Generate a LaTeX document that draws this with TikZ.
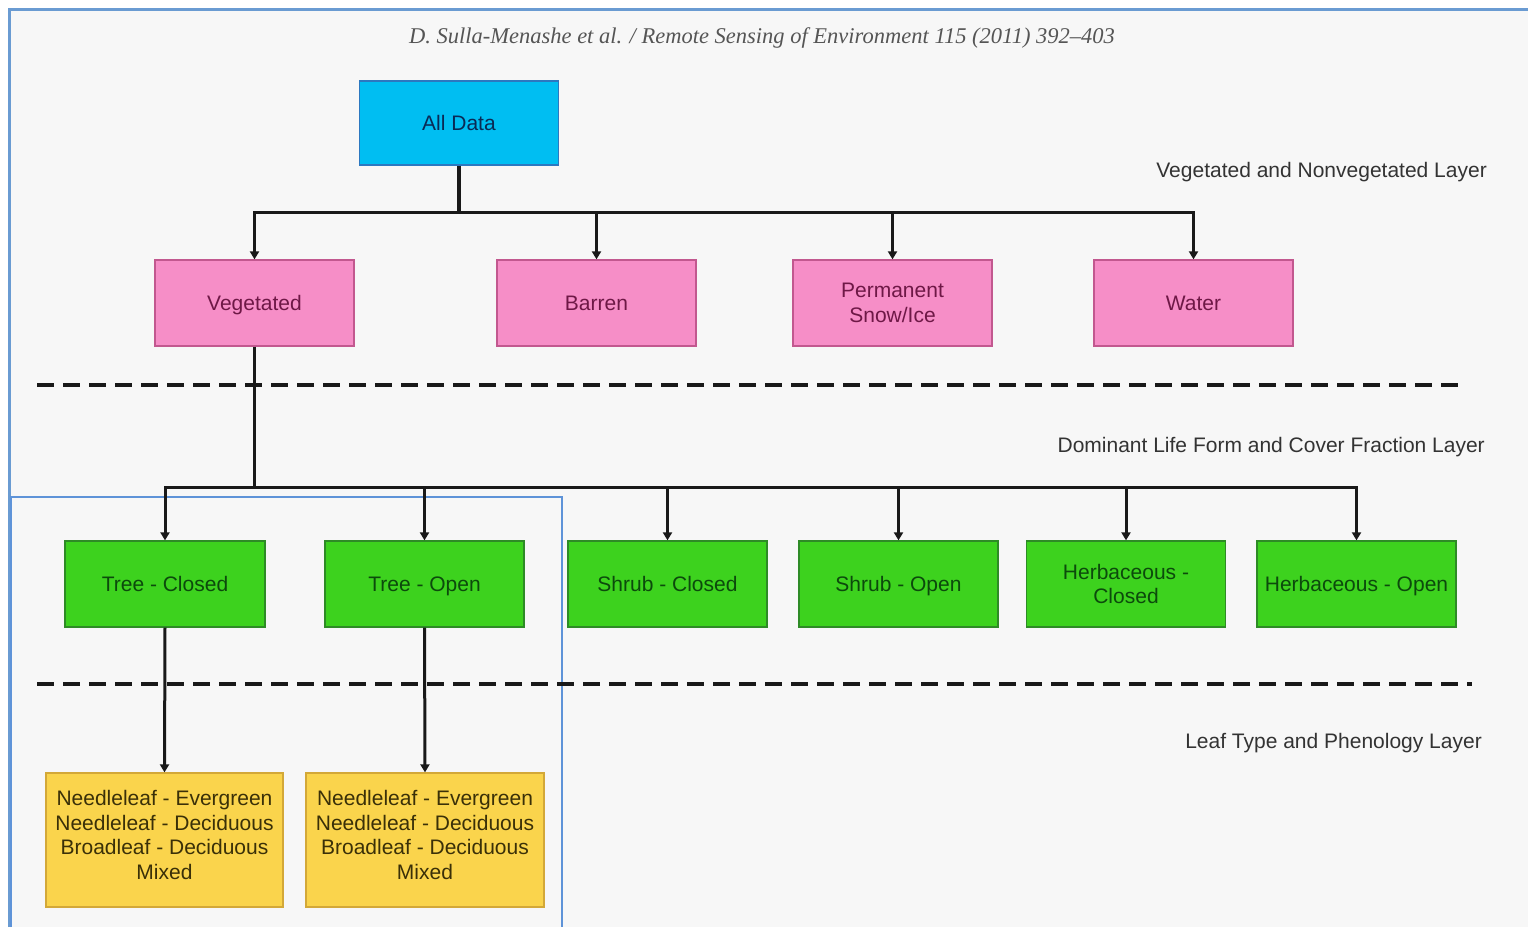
\documentclass[tikz,border=0pt]{standalone}
\usepackage{fontspec}
\setmainfont{Liberation Sans}
\newfontfamily\hdrfont{Liberation Serif}
\usetikzlibrary{arrows.meta}
\definecolor{bgc}{HTML}{F7F7F7}
\definecolor{frameblue}{HTML}{6A9BD2}
\definecolor{innerblue}{HTML}{5E93D8}
\definecolor{cyanfill}{HTML}{00BEF2}
\definecolor{cyandraw}{HTML}{2C78C0}
\definecolor{cyantext}{HTML}{0A2A55}
\definecolor{pinkfill}{HTML}{F68EC7}
\definecolor{pinkdraw}{HTML}{C2588F}
\definecolor{pinktext}{HTML}{6E1846}
\definecolor{greenfill}{HTML}{3DD21E}
\definecolor{greendraw}{HTML}{2E8B26}
\definecolor{greentext}{HTML}{0C4A0C}
\definecolor{yellowfill}{HTML}{FAD44C}
\definecolor{yellowdraw}{HTML}{D3A838}
\definecolor{yellowtext}{HTML}{3A3008}
\definecolor{labeltext}{HTML}{333333}
\definecolor{hdrtext}{HTML}{555555}
\begin{document}
\begin{tikzpicture}[x=1pt,y=-1pt,
  boxbase/.style={draw, line width=1.3pt, inner sep=0pt, align=center,
    minimum width=199pt, minimum height=86pt,
    font=\fontsize{21}{24.5}\selectfont},
  oneline/.style={text height=19.5pt, text depth=4.5pt},
  cyanbox/.style={boxbase, fill=cyanfill, draw=cyandraw, text=cyantext, minimum height=84pt},
  pinkbox/.style={boxbase, fill=pinkfill, draw=pinkdraw, text=pinktext},
  greenbox/.style={boxbase, fill=greenfill, draw=greendraw, text=greentext},
  yellowbox/.style={boxbase, fill=yellowfill, draw=yellowdraw, text=yellowtext,
    minimum width=237pt, minimum height=134pt, text depth=10pt},
  conn/.style={line width=3pt, black!90, -{Triangle[length=8pt,width=9pt]}},
  trunk/.style={line width=3.5pt, black!90},
  layerline/.style={line width=4pt, black!90, dash pattern=on 17pt off 9pt},
  layerlabel/.style={anchor=east, inner sep=0pt, text=labeltext,
    font=\fontsize{21}{24}\selectfont},
]
\useasboundingbox (0,0) rectangle (1528,927);
\fill[white] (0,0) rectangle (1528,927);
\fill[bgc] (9,9) rectangle (1528,927);
\draw[frameblue, line width=3pt] (9,927) -- (9,9) -- (1528,9);
\draw[innerblue, line width=1.6pt] (11,927) -- (11,497) -- (562,497) -- (562,927);

\node[inner sep=0pt, text=hdrtext, font=\hdrfont\itshape\fontsize{22.5}{26}\selectfont]
  (hdr) at (762,38) {D. Sulla-Menashe et al. / Remote Sensing of Environment 115 (2011) 392–403};

\node[cyanbox, oneline] (all) at (459,123) {All Data};

\node[pinkbox, oneline] (veg) at (254.5,303) {Vegetated};
\node[pinkbox, oneline] (barren) at (596.5,303) {Barren};
\node[pinkbox] (snow) at (892.5,303) {Permanent\\Snow/Ice};
\node[pinkbox, oneline] (water) at (1193.5,303) {Water};

\node[greenbox, oneline, minimum width=200pt] (tc) at (165,584) {Tree - Closed};
\node[greenbox, oneline] (to) at (424.5,584) {Tree - Open};
\node[greenbox, oneline] (sc) at (667.5,584) {Shrub - Closed};
\node[greenbox, oneline] (so) at (898.5,584) {Shrub - Open};
\node[greenbox] (hc) at (1126,584) {Herbaceous -\\Closed};
\node[greenbox, oneline] (ho) at (1356.5,584) {Herbaceous - Open};

\node[yellowbox] (ltc) at (164.5,840) {Needleleaf - Evergreen\\Needleleaf - Deciduous\\Broadleaf - Deciduous\\Mixed};
\node[yellowbox, minimum width=238pt] (lto) at (425,840) {Needleleaf - Evergreen\\Needleleaf - Deciduous\\Broadleaf - Deciduous\\Mixed};

\node[layerlabel] (l1) at (1487,172) {Vegetated and Nonvegetated Layer};
\node[layerlabel] (l2) at (1485,447) {Dominant Life Form and Cover Fraction Layer};
\node[layerlabel] (l3) at (1482,743) {Leaf Type and Phenology Layer};

\draw[layerline] (37,385) -- (1458,385);
\draw[layerline] (37,684) -- (1472,684);

\coordinate (j1) at (459,212);
\draw[trunk] (all.south) -- (j1);
\foreach \t in {veg,barren,snow,water}{
  \draw[conn] (j1) -| (\t.north);
}

\coordinate (j2) at (254.5,487);
\draw[trunk] (veg.south) -- (j2);
\foreach \t in {tc,to,sc,so,hc,ho}{
  \draw[conn] (j2) -| (\t.north);
}

\draw[conn] (tc.south) -- (ltc.north);
\draw[conn] (to.south) -- (lto.north);
\end{tikzpicture}
\end{document}
